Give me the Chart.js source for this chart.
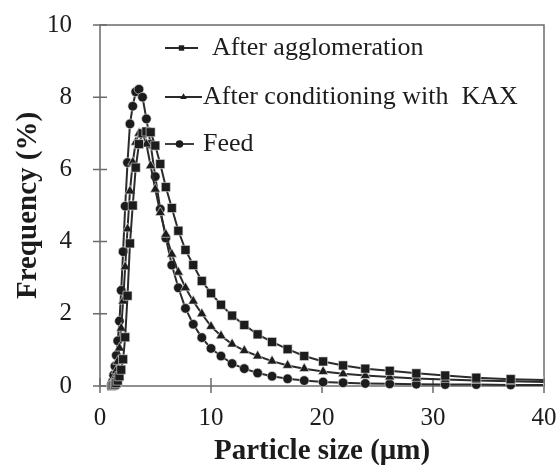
<!DOCTYPE html>
<html>
<head>
<meta charset="utf-8">
<script src="https://cdn.jsdelivr.net/npm/chart.js@4/dist/chart.umd.min.js"></script>
<style>
  html, body { margin: 0; padding: 0; background: #fff; }
  #wrap { width: 560px; height: 470px; }
</style>
</head>
<body>
<div id="wrap"><canvas id="psd"></canvas></div>
<script>
// particle size bins (um)
const sizes = [1.04, 1.13, 1.23, 1.35, 1.47, 1.60, 1.75, 1.91, 2.08, 2.27, 2.48, 2.70, 2.95, 3.22,
  3.51, 3.83, 4.18, 4.56, 4.98, 5.43, 5.93, 6.47, 7.06, 7.70, 8.40, 9.17, 10.0, 10.9, 11.9, 13.0,
  14.2, 15.5, 16.9, 18.4, 20.1, 21.9, 23.9, 26.1, 28.5, 31.1, 33.9, 37.0, 40.4];

// frequency (%) per bin
const afterAgglomeration = [0.0, 0.01, 0.02, 0.04, 0.08, 0.15, 0.27, 0.45, 0.74, 1.35, 2.50, 3.95, 5.00, 6.05,
  6.70, 7.00, 7.05, 7.03, 6.66, 6.15, 5.51, 4.93, 4.30, 3.77, 3.35, 2.91, 2.57, 2.25, 1.95, 1.69,
  1.43, 1.22, 1.02, 0.83, 0.68, 0.57, 0.48, 0.42, 0.35, 0.29, 0.23, 0.19, 0.16];
const afterKAX = [0.02, 0.05, 0.12, 0.24, 0.42, 0.68, 1.05, 1.60, 2.35, 3.30, 4.35, 5.40, 6.20, 6.75,
  7.00, 7.00, 6.70, 6.10, 5.45, 4.80, 4.20, 3.65, 3.15, 2.72, 2.35, 2.00, 1.65, 1.39, 1.16, 0.98,
  0.83, 0.69, 0.57, 0.48, 0.40, 0.34, 0.29, 0.25, 0.21, 0.18, 0.15, 0.13, 0.11];
const feed = [0.04, 0.12, 0.30, 0.55, 0.85, 1.25, 1.80, 2.65, 3.72, 4.98, 6.19, 7.26, 7.75, 8.15,
  8.22, 8.00, 7.40, 6.70, 5.80, 4.90, 4.10, 3.35, 2.72, 2.15, 1.71, 1.34, 1.04, 0.83, 0.62, 0.48,
  0.36, 0.27, 0.20, 0.15, 0.11, 0.09, 0.07, 0.06, 0.05, 0.04, 0.04, 0.03, 0.03];

const seriesLabels = ['After agglomeration', 'After conditioning with  KAX', 'Feed'];
const xTicks = [0, 10, 20, 30, 40];
const yTicks = [0, 2, 4, 6, 8, 10];

const serif = "'Liberation Serif', 'Times New Roman', serif";
const ink = '#1c1c1c';
const axisGrey = '#6b6b6b';

function series(label, values, style, radius) {
  return {
    label: label,
    data: sizes.map((s, i) => ({ x: s, y: values[i] })),
    borderColor: '#2b2b2b',
    borderWidth: 2,
    pointStyle: style,
    pointRadius: radius,
    pointBackgroundColor: ink,
    pointBorderColor: '#e8e8e8',
    pointBorderWidth: 0.6,
    tension: 0,
    clip: { left: 6, top: 6, right: 0, bottom: 8 }
  };
}

// box around the plot + tick marks crossing the axes
const frame = {
  id: 'frame',
  beforeDatasetsDraw(chart) {
    const { ctx, chartArea: a, scales } = chart;
    ctx.save();
    ctx.strokeStyle = axisGrey;
    ctx.lineWidth = 1.5;
    ctx.strokeRect(a.left, a.top, a.right - a.left, a.bottom - a.top);
    ctx.beginPath();
    yTicks.forEach(v => {
      const y = scales.y.getPixelForValue(v);
      ctx.moveTo(a.left - 7, y);
      ctx.lineTo(a.left + 7, y);
    });
    xTicks.forEach(v => {
      const x = scales.x.getPixelForValue(v);
      ctx.moveTo(x, a.bottom - 8);
      ctx.lineTo(x, a.bottom + 7);
    });
    ctx.stroke();
    ctx.restore();
  }
};

// legend in the upper part of the plot
const insideLegend = {
  id: 'insideLegend',
  afterDraw(chart) {
    const { ctx } = chart;
    const rows = [
      { y: 48, x0: 165, x1: 198, tx: 212 },
      { y: 97, x0: 165, x1: 202, tx: 203 },
      { y: 144, x0: 165, x1: 194, tx: 203 }
    ];
    ctx.save();
    chart.data.datasets.forEach((ds, i) => {
      const r = rows[i];
      ctx.strokeStyle = ds.borderColor;
      ctx.lineWidth = 1.8;
      ctx.beginPath();
      ctx.moveTo(r.x0, r.y);
      ctx.lineTo(r.x1, r.y);
      ctx.stroke();
      ctx.fillStyle = ink;
      ctx.strokeStyle = ink;
      Chart.helpers.drawPoint(ctx, { pointStyle: ds.pointStyle, radius: 3.8, borderWidth: 0 },
        (r.x0 + r.x1) / 2, r.y);
      ctx.fillStyle = ink;
      ctx.font = '26px ' + serif;
      ctx.textBaseline = 'middle';
      ctx.fillText(ds.label, r.tx, r.y);
    });
    ctx.restore();
  }
};

new Chart(document.getElementById('psd'), {
  type: 'line',
  data: {
    datasets: [
      series(seriesLabels[0], afterAgglomeration, 'rect', 6.4),
      series(seriesLabels[1], afterKAX, 'triangle', 5.8),
      series(seriesLabels[2], feed, 'circle', 4.8)
    ]
  },
  options: {
    responsive: true,
    maintainAspectRatio: false,
    animation: false,
    layout: { padding: { top: 25, right: 16, left: 0, bottom: 0 } },
    plugins: { legend: { display: false }, tooltip: { enabled: false } },
    scales: {
      x: {
        type: 'linear',
        min: 0,
        max: 40,
        afterBuildTicks: s => { s.ticks = xTicks.map(v => ({ value: v })); },
        afterFit: s => { s.height = 84; s.paddingLeft = 0; s.paddingRight = 0; },
        grid: { display: false, drawTicks: false },
        border: { display: false },
        ticks: { color: ink, padding: 17, font: { family: serif, size: 25 } },
        title: {
          display: true,
          text: 'Particle size (μm)',
          color: ink,
          padding: { top: 0, bottom: 1 },
          font: { family: serif, size: 29, weight: 'bold' }
        }
      },
      y: {
        min: 0,
        max: 10,
        afterBuildTicks: s => { s.ticks = yTicks.map(v => ({ value: v })); },
        afterFit: s => { s.width = 100; s.paddingTop = 0; s.paddingBottom = 0; },
        grid: { display: false, drawTicks: false },
        border: { display: false },
        ticks: { color: ink, padding: 28, font: { family: serif, size: 25 } },
        title: {
          display: true,
          text: 'Frequency (%)',
          color: ink,
          padding: { top: 11, bottom: 0 },
          font: { family: serif, size: 29, weight: 'bold' }
        }
      }
    }
  },
  plugins: [frame, insideLegend]
});
</script>
</body>
</html>
